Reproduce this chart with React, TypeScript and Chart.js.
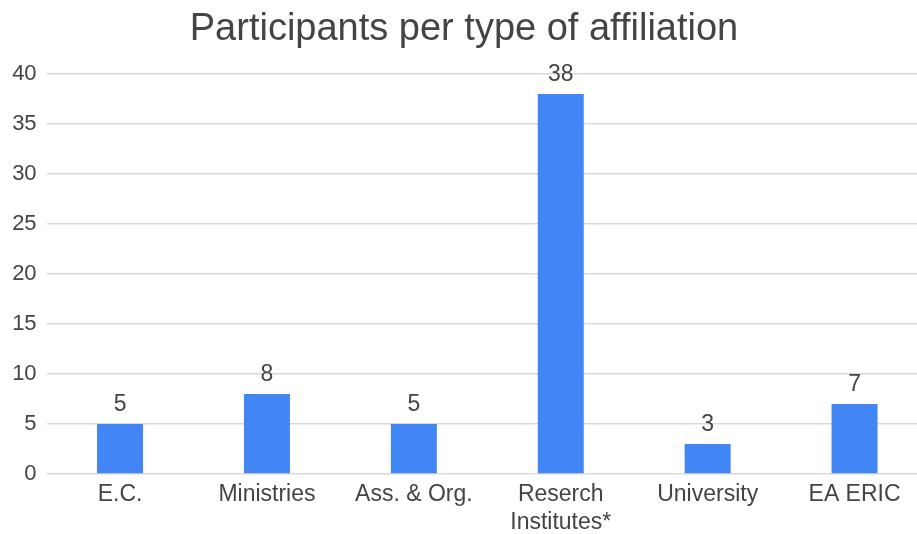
import React, { useEffect, useRef } from "react";
import { Chart, registerables } from "chart.js";

Chart.register(...registerables);

const categories: (string | string[])[] = [
  "E.C.",
  "Ministries",
  "Ass. & Org.",
  ["Reserch", "Institutes*"],
  "University",
  "EA ERIC",
];
const participants = [5, 8, 5, 38, 3, 7];
const yTicks = [0, 5, 10, 15, 20, 25, 30, 35, 40];
const titleText = "Participants per type of affiliation";

const FONT = "'Liberation Sans', Arial, sans-serif";
const TEXT = "#444444";

const valueLabels = {
  id: "valueLabels",
  afterDatasetsDraw(chart: any) {
    const ctx = chart.ctx;
    const meta = chart.getDatasetMeta(0);
    ctx.save();
    ctx.font = `23px ${FONT}`;
    ctx.fillStyle = TEXT;
    ctx.textAlign = "center";
    ctx.textBaseline = "middle";
    meta.data.forEach((bar: any, i: number) => {
      ctx.fillText(String(chart.data.datasets[0].data[i]), bar.x, bar.y - 19.5);
    });
    ctx.restore();
  },
};

export default function App() {
  const ref = useRef<HTMLCanvasElement>(null);
  useEffect(() => {
    if (!ref.current) return;
    const chart = new Chart(ref.current, {
      type: "bar",
      data: {
        labels: categories,
        datasets: [
          {
            data: participants,
            backgroundColor: "#4285F4",
            barPercentage: 0.313,
            categoryPercentage: 1,
          },
        ],
      },
      options: {
        responsive: false,
        animation: false,
        layout: { padding: { left: 0, right: 0, top: 0, bottom: 0 } },
        plugins: {
          legend: { display: false },
          tooltip: { enabled: false },
          title: {
            display: true,
            text: titleText,
            color: TEXT,
            font: { family: FONT, size: 38, weight: "normal", lineHeight: 1.2 },
            padding: { top: 7, bottom: 21.4 },
          },
        },
        scales: {
          x: {
            grid: { display: false, drawTicks: false },
            border: { display: false },
            ticks: {
              color: TEXT,
              font: { family: FONT, size: 23, lineHeight: 28 / 23 },
              padding: 7,
              maxRotation: 0,
              autoSkip: false,
            },
            afterFit(scale: any) {
              scale.height = 60;
            },
          },
          y: {
            min: 0,
            max: 40,
            afterBuildTicks(scale: any) {
              scale.ticks = yTicks.map((v) => ({ value: v }));
            },
            grid: { color: "#d9d9d9", lineWidth: 1.5, drawTicks: false },
            border: { display: false },
            ticks: {
              color: TEXT,
              font: { family: FONT, size: 22 },
              padding: 10,
            },
            afterFit(scale: any) {
              scale.width = 46.6;
            },
          },
        },
      },
      plugins: [valueLabels],
    });
    return () => chart.destroy();
  }, []);
  return (
    <div
      style={{
        position: "absolute",
        left: 0,
        top: 0,
        width: 917,
        height: 534,
        overflow: "hidden",
        background: "#fff",
      }}
    >
      <canvas ref={ref} width={928} height={534} />
    </div>
  );
}
